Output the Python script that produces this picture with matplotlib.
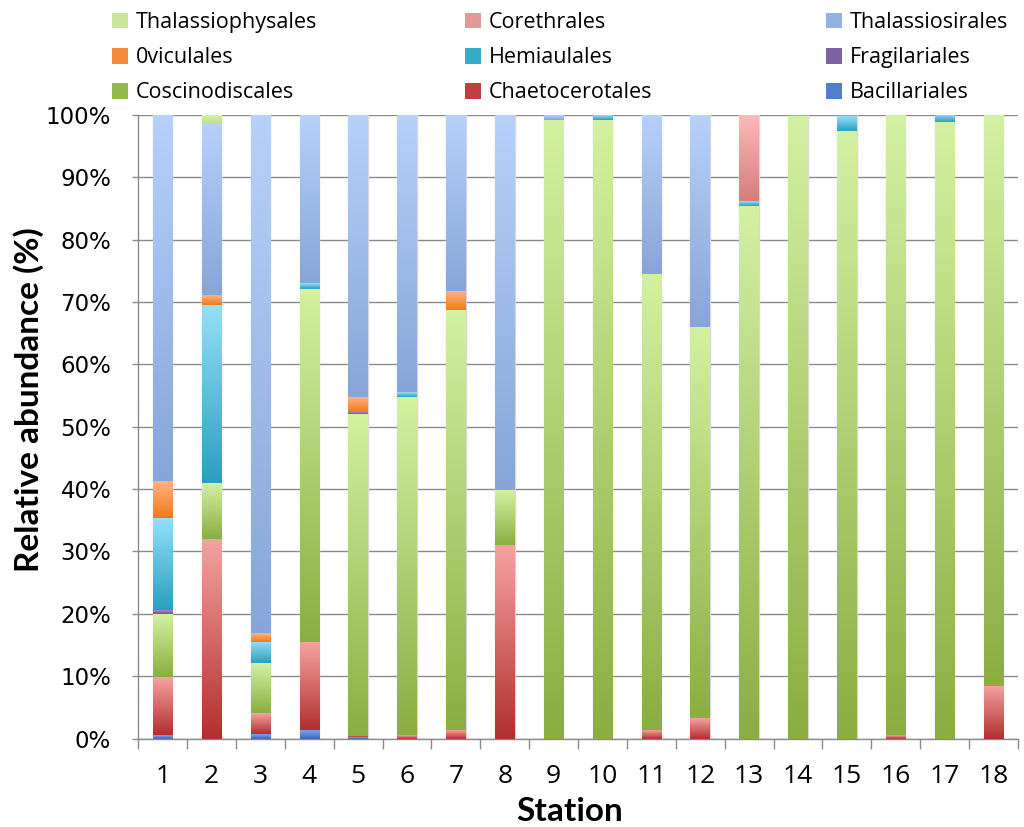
import numpy as np
import matplotlib
matplotlib.use("Agg")
from matplotlib import pyplot as plt
from matplotlib import font_manager
from matplotlib.colors import LinearSegmentedColormap
from matplotlib.ticker import PercentFormatter, FixedLocator
import matplotlib.patches as patches

stations = [str(i) for i in range(1, 19)]

# relative abundance (%) per order, stacked bottom -> top
bacillariales     = [0.6, 0, 0.8, 1.4, 0.2, 0, 0, 0, 0, 0, 0, 0, 0, 0, 0, 0, 0, 0]
chaetocerotales   = [9.3, 32.0, 3.3, 14.0, 0.2, 0.6, 1.4, 31.1, 0, 0, 1.3, 3.3, 0, 0, 0, 0.6, 0, 8.5]
coscinodiscales   = [10.1, 8.9, 8.0, 56.7, 51.6, 54.2, 67.3, 8.7, 99.2, 99.2, 73.2, 62.7, 85.4, 99.8, 97.5, 99.4, 98.8, 91.5]
fragilariales     = [0.6, 0, 0, 0, 0.3, 0, 0, 0, 0, 0, 0, 0, 0, 0, 0, 0, 0, 0]
hemiaulales       = [14.8, 28.6, 3.4, 0.9, 0, 0.7, 0, 0, 0, 0.8, 0, 0, 0.8, 0, 2.3, 0, 1.2, 0]
oviculales        = [5.9, 1.6, 1.4, 0, 2.4, 0, 3.0, 0, 0, 0, 0, 0, 0, 0, 0.2, 0, 0, 0]
thalassiosirales  = [58.7, 27.6, 83.1, 27.0, 45.3, 44.5, 28.3, 60.2, 0.8, 0, 25.5, 34.0, 0, 0.2, 0, 0, 0, 0]
corethrales       = [0, 0, 0, 0, 0, 0, 0, 0, 0, 0, 0, 0, 13.8, 0, 0, 0, 0, 0]
thalassiophysales = [0, 1.3, 0, 0, 0, 0, 0, 0, 0, 0, 0, 0, 0, 0, 0, 0, 0, 0]

# (name, values, bottom colour, top colour, legend colour)
series = [
    ("Bacillariales", bacillariales, "#3a68b8", "#7ea6e6", "#4f7fcf"),
    ("Chaetocerotales", chaetocerotales, "#b22f2e", "#f5a3a2", "#c0403f"),
    ("Coscinodiscales", coscinodiscales, "#8aae42", "#d3f1a2", "#93b84e"),
    ("Fragilariales", fragilariales, "#6c4f98", "#a58cc8", "#7e62a8"),
    ("Hemiaulales", hemiaulales, "#2a9fbf", "#95e0f8", "#38abc9"),
    ("0viculales", oviculales, "#f07a1a", "#ffb385", "#f58a3a"),
    ("Thalassiosirales", thalassiosirales, "#87a5d8", "#b8d1fb", "#93b1e3"),
    ("Corethrales", corethrales, "#d77c7c", "#ffb8b8", "#e59898"),
    ("Thalassiophysales", thalassiophysales, "#bfdf8e", "#d6f3a8", "#c8e59a"),
]

installed = {f.name for f in font_manager.fontManager.ttflist}
def pick(*names):
    for n in names:
        if n in installed:
            return n
    return "DejaVu Sans"

narrow = pick("Liberation Sans Narrow", "Open Sans", "Lato")
bold_font = pick("Lato", "Open Sans")

fig = plt.figure(figsize=(10.24, 8.27), dpi=100)
ax = fig.add_axes([0.135, 0.107, 0.859, 0.754])

x = np.arange(len(stations))
width = 0.4
grad = np.linspace(0, 1, 256).reshape(-1, 1)
bottom = np.zeros(len(stations))
handles = {}
for name, vals, c0, c1, cl in series:
    vals = np.array(vals, dtype=float)
    bars = ax.bar(x, vals, width, bottom=bottom, color=cl, edgecolor="none", zorder=3)
    cmap = LinearSegmentedColormap.from_list(name, [c0, c1])
    for b in bars:
        h = b.get_height()
        if h <= 0:
            continue
        bx, by, bw = b.get_x(), b.get_y(), b.get_width()
        ax.imshow(grad, cmap=cmap, extent=[bx, bx + bw, by, by + h],
                  origin="lower", aspect="auto", zorder=4, interpolation="bilinear")
    handles[name] = patches.Patch(facecolor=cl, edgecolor="none")
    bottom += vals

# light shadow edges around each full bar
for xi in x:
    ax.add_patch(patches.Rectangle((xi - width / 2, 0), width, 100, fill=False,
                                   edgecolor="#d8d8d8", linewidth=1.0, zorder=2.5))

ax.set_xlim(-0.5, len(stations) - 0.5)
ax.set_ylim(0, 100)
ax.set_aspect("auto")

ax.yaxis.set_major_locator(FixedLocator(np.arange(0, 101, 10)))
ax.yaxis.set_major_formatter(PercentFormatter(decimals=0))
ax.grid(axis="y", color="#8a8a8a", linewidth=1.0, zorder=0)
ax.set_axisbelow(True)

ax.set_xticks(x)
ax.set_xticklabels(stations, fontsize=19, family=narrow)
ax.set_xticks(np.arange(-0.5, len(stations), 1), minor=True)
ax.tick_params(axis="x", which="major", length=0, pad=18)
ax.tick_params(axis="x", which="minor", length=7, width=1, color="#8a8a8a")
ax.tick_params(axis="y", length=4.5, width=1, color="#8a8a8a", labelsize=16.5, pad=15)

for s in ["top", "right"]:
    ax.spines[s].set_visible(False)
for s in ["left", "bottom"]:
    ax.spines[s].set_color("#8a8a8a")
    ax.spines[s].set_linewidth(1.0)

ax.set_ylabel("Relative abundance (%)", fontsize=24, fontweight="bold", family=bold_font)
ax.yaxis.set_label_coords(-0.107, 0.543)
ax.set_xlabel("Station", fontsize=24, fontweight="bold", family=bold_font)
ax.xaxis.set_label_coords(0.49, -0.093)

# legend: three columns placed separately, rows read top-down
legend_cols = [["Thalassiophysales", "0viculales", "Coscinodiscales"],
               ["Corethrales", "Hemiaulales", "Chaetocerotales"],
               ["Thalassiosirales", "Fragilariales", "Bacillariales"]]
col_x = [112, 465, 826]
for names, px in zip(legend_cols, col_x):
    leg = fig.legend([handles[n] for n in names], names, loc="upper left",
                     bbox_to_anchor=(px / 1024, 1 - 12 / 827), frameon=False,
                     prop={"family": narrow, "size": 15.5}, borderpad=0, borderaxespad=0,
                     handlelength=0.75, handleheight=0.75, handletextpad=0.35,
                     labelspacing=0.66)

fig.savefig("out.png", dpi=100)
